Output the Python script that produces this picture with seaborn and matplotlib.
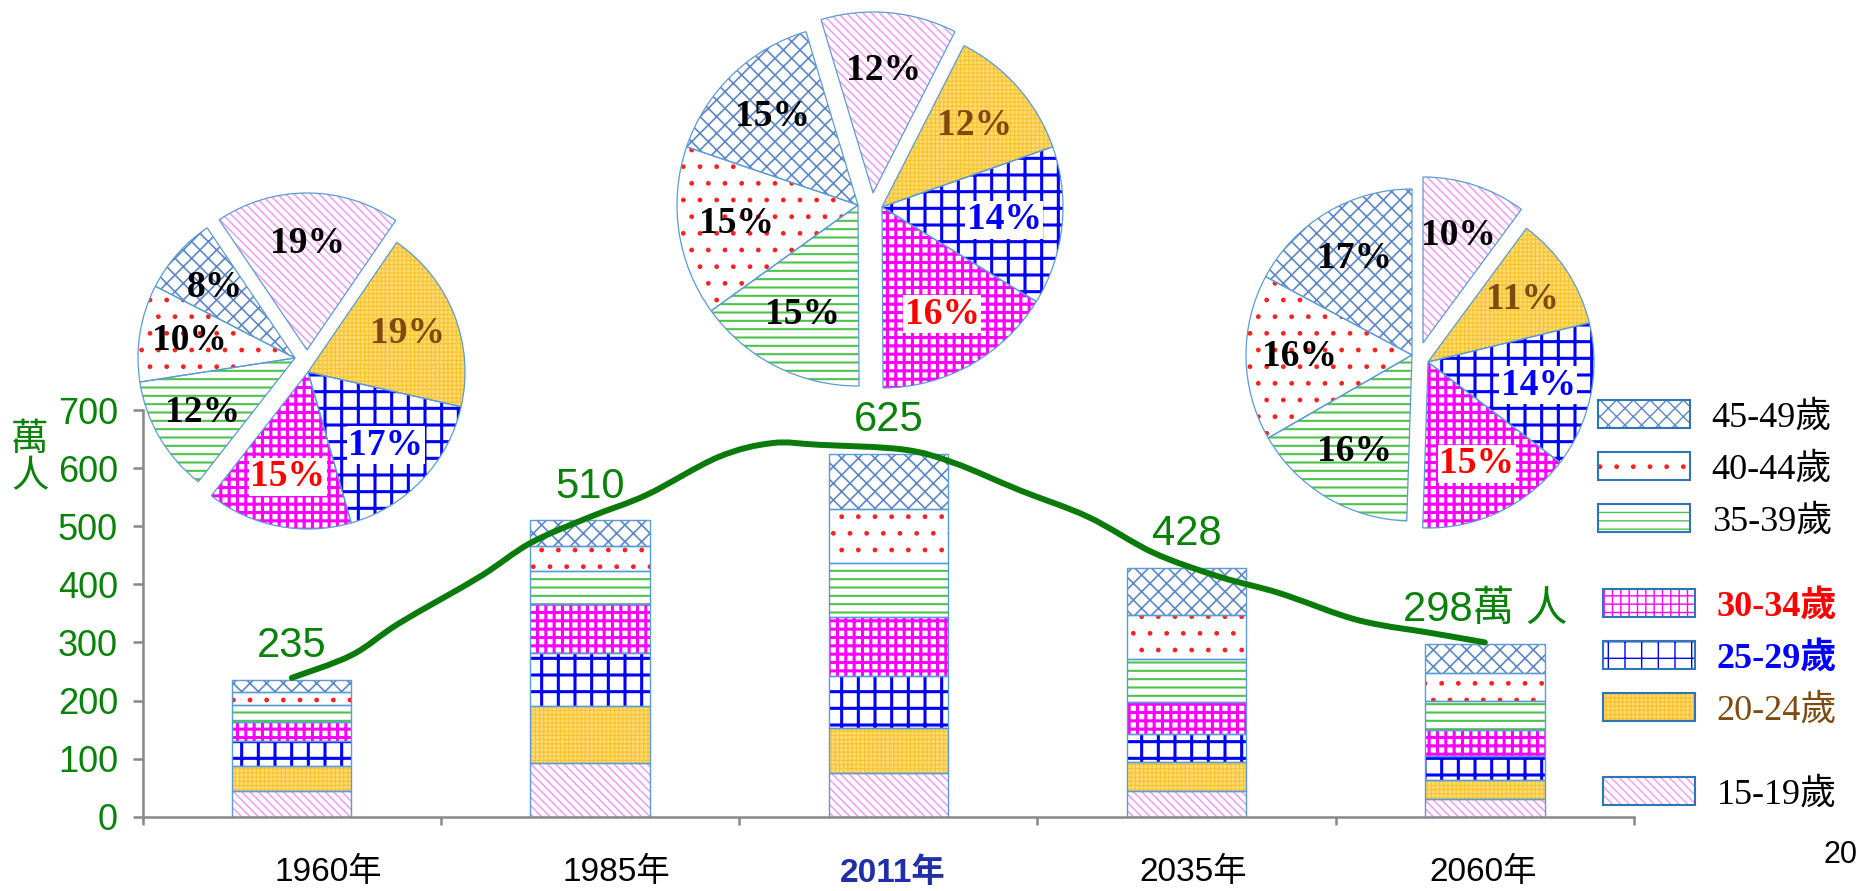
import numpy as np
import matplotlib
matplotlib.use("Agg")
import matplotlib.pyplot as plt
import matplotlib.patches as mpatches
from matplotlib.path import Path
from matplotlib.transforms import ScaledTranslation
from matplotlib.font_manager import FontProperties
import seaborn as sns

# ---------------- data (萬人) ----------------
years = ["1960年", "1985年", "2011年", "2035年", "2060年"]
age_groups = ["15-19歲", "20-24歲", "25-29歲", "30-34歲", "35-39歲", "40-44歲", "45-49歲"]
v_15_19 = [45, 92, 76, 45, 30]
v_20_24 = [43, 99, 77, 49, 34]
v_25_29 = [42, 90, 89, 48, 41]
v_30_34 = [33, 85, 101, 55, 45]
v_35_39 = [29, 57, 93, 74, 49]
v_40_44 = [23, 43, 93, 77, 48]
v_45_49 = [20, 44, 96, 80, 51]
totals = [235, 510, 625, 428, 298]

pie_1960 = [19, 19, 17, 15, 12, 10, 8]
pie_2011 = [12, 12, 14, 16, 15, 15, 15]
pie_2060 = [10, 11, 14, 15, 16, 16, 17]

# hand-drawn trend line (x in category units)
line_x = [0.00, 0.20, 0.36, 0.63, 0.80, 1.00, 1.19, 1.43, 1.61, 1.77, 2.05,
          2.22, 2.44, 2.67, 2.89, 3.11, 3.31, 3.53, 3.65, 3.81, 4.00]
line_y = [239, 278, 333, 413, 471, 516, 554, 619, 643, 640, 632,
          609, 562, 516, 454, 413, 385, 345, 330, 317, 300]

y_ticks = [0, 100, 200, 300, 400, 500, 600, 700]

series = [v_15_19, v_20_24, v_25_29, v_30_34, v_35_39, v_40_44, v_45_49]

# ---------------- styles ----------------
STYLE = {
    "15-19歲": dict(face="white", hatch="\\\\\\\\", hc="#F49AF4", hlw=1.1),
    "20-24歲": dict(face="#FFDC70", hatch="++++", hc="#F8C232", hlw=0.8),
    "25-29歲": dict(face="white", hatch="+", hc="#0000FF", hlw=2.2),
    "30-34歲": dict(face="white", hatch="++", hc="#FF00FF", hlw=2.2),
    "35-39歲": dict(face="white", hatch="--", hc="#4CC44C", hlw=1.5),
    "40-44歲": dict(face="white", hatch=".", hc="#FF2020", hlw=1.0),
    "45-49歲": dict(face="white", hatch="xx", hc="#5D87C6", hlw=1.2),
}
LABEL_STYLE = {
    "15-19歲": dict(color="black", weight="normal"),
    "20-24歲": dict(color="#7F4A0E", weight="normal"),
    "25-29歲": dict(color="#0000FF", weight="bold"),
    "30-34歲": dict(color="#FF0000", weight="bold"),
    "35-39歲": dict(color="black", weight="normal"),
    "40-44歲": dict(color="black", weight="normal"),
    "45-49歲": dict(color="black", weight="normal"),
}

sns.set_theme(style="white")
plt.rcParams["font.family"] = ["Liberation Sans", "Noto Sans CJK TC", "DejaVu Sans"]
plt.rcParams["hatch.linewidth"] = 1.0

W, H = 1865, 891
GREEN = "#0A820A"
EDGE = "#5B9BD5"
GRAY = "#888888"

fig = plt.figure(figsize=(W / 100, H / 100), dpi=100)
fig.patch.set_facecolor("white")
ax = fig.add_axes([142.7 / W, (H - 816.7) / H, (1634 - 142.7) / W, (816.7 - 410) / H])
ax.set_facecolor("none")


def set_hlw(patches, lw):
    for p in patches:
        if hasattr(p, "set_hatch_linewidth"):
            p.set_hatch_linewidth(lw)


xpos = np.arange(len(years))
bottom = np.zeros(len(years))
for grp, vals in zip(age_groups, series):
    st = STYLE[grp]
    n0 = len(ax.patches)
    with plt.rc_context({"hatch.linewidth": st["hlw"]}):
        sns.barplot(x=xpos, y=vals, bottom=bottom.copy(), native_scale=True, width=0.4,
                    color=st["face"], saturation=1, edgecolor=st["hc"], linewidth=0,
                    hatch=st["hatch"], errorbar=None, ax=ax, zorder=2)
    set_hlw(ax.patches[n0:], st["hlw"])
    sns.barplot(x=xpos, y=vals, bottom=bottom.copy(), native_scale=True, width=0.4,
                fill=False, color=EDGE, edgecolor=EDGE, linewidth=1.0,
                errorbar=None, ax=ax, zorder=3)
    bottom += np.array(vals, dtype=float)

# trend line: smooth curve through the read points (Catmull-Rom as cubic Bezier)
pts = np.column_stack([line_x, line_y]).astype(float)
ext = np.vstack([pts[0], pts, pts[-1]])
verts = [tuple(pts[0])]
codes = [Path.MOVETO]
for i in range(len(pts) - 1):
    p0, p1, p2, p3 = ext[i], ext[i + 1], ext[i + 2], ext[i + 3]
    c1 = p1 + (p2 - p0) / 6.0
    c2 = p2 - (p3 - p1) / 6.0
    verts += [tuple(c1), tuple(c2), tuple(p2)]
    codes += [Path.CURVE4] * 3
ax.add_patch(mpatches.PathPatch(Path(verts, codes), fill=False, edgecolor="#0A7A0A",
                                linewidth=4.3, capstyle="round", joinstyle="round",
                                zorder=6))

# value labels
for i, t in enumerate(totals):
    txt = f"{t}萬 人" if i == len(totals) - 1 else str(t)
    ax.text(xpos[i], t + 58, txt, ha="center", va="center", color=GREEN, fontsize=30,
            family=["Liberation Sans", "Noto Sans CJK TC"], zorder=7)

# axes formatting
ax.set_xlim(-0.5, 4.5)
ax.set_ylim(0, 700)
for s in ["top", "right"]:
    ax.spines[s].set_visible(False)
for s in ["left", "bottom"]:
    ax.spines[s].set_color(GRAY)
    ax.spines[s].set_linewidth(1.8)
ax.set_yticks(y_ticks)
ax.set_yticklabels([str(v) for v in y_ticks])
ax.tick_params(axis="y", which="major", direction="out", length=7.2, width=1.8,
               color=GRAY, labelcolor=GREEN, labelsize=26, pad=10.5, left=True)
ax.set_xticks(xpos)
ax.set_xticklabels(years)
ax.set_xticks(np.arange(-0.5, 4.6, 1.0), minor=True)
ax.tick_params(axis="x", which="major", length=0, pad=29, labelsize=24, labelcolor="black",
               bottom=False)
ax.tick_params(axis="x", which="minor", direction="out", length=5.5, width=1.8, color=GRAY,
               bottom=True)
xlabel_shift_px = [36, 26, 4, 7, -2]
for lab, dx in zip(ax.get_xticklabels(), xlabel_shift_px):
    lab.set_transform(lab.get_transform() + ScaledTranslation(dx / 100, 0, fig.dpi_scale_trans))
lbl = ax.get_xticklabels()[2]
lbl.set_fontweight("bold")
lbl.set_color("#1E2FA8")
ax.set_xlabel("")
ax.set_ylabel("萬\n人", rotation=0, color=GREEN, fontsize=27, family=["Noto Sans CJK TC"],
              linespacing=0.95)
ax.yaxis.set_label_coords(-0.0756, 0.882)
ax.yaxis.label.set_ha("center")
ax.yaxis.label.set_va("center")
ax.grid(False)


# ---------------- pies ----------------
PIE_LABEL_COLORS = ["black", "#7F4A0E", "#0000FF", "#FF0000", "black", "black", "black"]


def draw_pie(cx, cy, r, pcts, start, off_pink, off_left, dist=0.68):
    B = r * 1.35
    pax = fig.add_axes([(cx - B) / W, (H - cy - B) / H, 2 * B / W, 2 * B / H])
    w_fill, _ = pax.pie(pcts, startangle=start, counterclock=False, radius=1,
                        wedgeprops=dict(linewidth=0))
    w_line, _ = pax.pie(pcts, startangle=start, counterclock=False, radius=1,
                        wedgeprops=dict(linewidth=0.9, edgecolor=EDGE, facecolor="none"))
    for i, grp in enumerate(age_groups):
        st = STYLE[grp]
        wf = w_fill[i]
        wf.set_facecolor(st["face"])
        wf.set_edgecolor(st["hc"])
        wf.set_linewidth(0)
        wf.set_hatch(st["hatch"])
        set_hlw([wf], st["hlw"])
        if i == 0:
            off = off_pink
        elif i >= 4:
            off = off_left
        else:
            off = (0, 0)
        c = (off[0] / r, -off[1] / r)
        wf.set_center(c)
        w_line[i].set_center(c)
        mid = np.deg2rad((wf.theta1 + wf.theta2) / 2)
        tx = c[0] + dist * np.cos(mid)
        ty = c[1] + dist * np.sin(mid)
        bbox = dict(facecolor="white", edgecolor="none", pad=1.0) if i in (2, 3) else None
        pax.text(tx, ty, f"{pcts[i]}%", ha="center", va="center", fontsize=27,
                 family=["Liberation Serif"], fontweight="bold",
                 color=PIE_LABEL_COLORS[i], bbox=bbox, zorder=5)
    pax.set_xlim(-B / r, B / r)
    pax.set_ylim(-B / r, B / r)
    pax.axis("off")
    return pax


draw_pie(308, 372, 157, pie_1960, 124, (-1, -22), (-13, -14))
draw_pie(882, 207, 181, pie_2011, 106.7, (-9, -14), (-24, -2))
draw_pie(1428, 362, 166, pie_2060, 90, (-5, -19), (-16, -7))

# ---------------- legend ----------------
leg_prop = FontProperties(family=["Liberation Serif", "Noto Sans CJK TC"], size=26)


def make_handle(grp):
    st = STYLE[grp]
    with plt.rc_context({"hatch.linewidth": st["hlw"]}):
        p1 = mpatches.Patch(facecolor=st["face"], edgecolor=st["hc"], linewidth=0,
                            hatch=st["hatch"])
    set_hlw([p1], st["hlw"])
    p2 = mpatches.Patch(facecolor="none", edgecolor="#2E75B6", linewidth=1.5)
    return (p1, p2)


groups = [
    (["45-49歲", "40-44歲", "35-39歲"], 1598, 400),
    (["30-34歲", "25-29歲", "20-24歲"], 1603, 589),
    (["15-19歲"], 1603, 777),
]
for labels, lx, ly in groups:
    handles = [make_handle(g) for g in labels]
    leg = fig.legend(handles, labels, loc="upper left",
                     bbox_to_anchor=(lx / W, 1 - ly / H), frameon=False, prop=leg_prop,
                     borderpad=0, borderaxespad=0, handlelength=2.55, handleheight=0.83,
                     handletextpad=0.6, labelspacing=0.48)
    for t, g in zip(leg.get_texts(), labels):
        t.set_color(LABEL_STYLE[g]["color"])
        t.set_fontweight(LABEL_STYLE[g]["weight"])

fig.text(1841 / W, 1 - 855 / H, "20", fontsize=22, ha="center", va="center", color="black")

fig.savefig("out.png", dpi=100, facecolor="white")
